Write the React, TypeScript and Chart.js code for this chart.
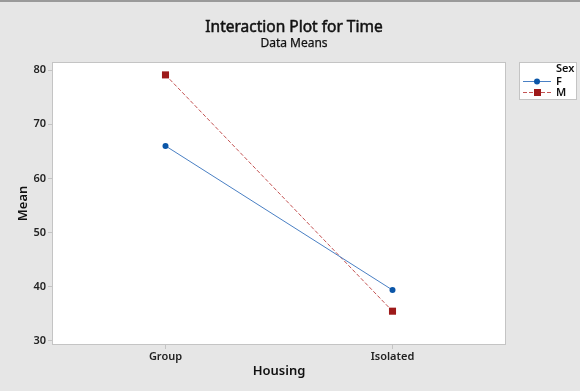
import React, { useEffect, useRef } from "react";
import { Chart, registerables } from "chart.js";

Chart.register(...registerables);

const categories = ["Group", "Isolated"];
const seriesF = [66.0, 39.4];
const seriesM = [79.1, 35.5];
const seriesLabels = ["F", "M"];
const yTicks = [30, 40, 50, 60, 70, 80];
const titleText = "Interaction Plot for Time";
const subtitleText = "Data Means";
const xTitle = "Housing";
const yTitle = "Mean";
const legendTitle = "Sex";

const FONT = "'Noto Sans', 'Open Sans', sans-serif";
const BG = "#e6e6e6";
const FRAME = "#c4c4c4";
const F_LINE = "#4a80c4";
const F_PT = "#0b56a8";
const M_LINE = "#c45454";
const M_PT = "#9e1a1a";

const decor = {
  id: "decor",
  beforeDraw(chart: any) {
    const { ctx, chartArea: a, width, height } = chart;
    ctx.save();
    ctx.fillStyle = BG;
    ctx.fillRect(0, 0, width, height);
    ctx.fillStyle = "#9a9a9a";
    ctx.fillRect(0, 0, width, 2);
    ctx.fillStyle = "#ffffff";
    ctx.fillRect(a.left, a.top, a.right - a.left, a.bottom - a.top);
    ctx.restore();
  },
  afterDraw(chart: any) {
    const { ctx, chartArea: a } = chart;
    ctx.save();
    ctx.strokeStyle = FRAME;
    ctx.lineWidth = 1;
    ctx.strokeRect(a.left + 0.5, a.top + 0.5, a.right - a.left - 1, a.bottom - a.top - 1);
    ctx.fillStyle = "#111";
    ctx.strokeStyle = "#111";
    ctx.textAlign = "center";
    ctx.textBaseline = "middle";
    ctx.font = `15.5px ${FONT}`;
    ctx.lineWidth = 0.5;
    ctx.fillText(titleText, 294, 28);
    ctx.strokeText(titleText, 294, 28);
    ctx.font = `12px ${FONT}`;
    ctx.lineWidth = 0.25;
    ctx.fillText(subtitleText, 294, 44);
    ctx.strokeText(subtitleText, 294, 44);
    ctx.font = `600 13px ${FONT}`;
    ctx.fillText(xTitle, (a.left + a.right) / 2 + 0, 371);
    ctx.save();
    ctx.translate(23, (a.top + a.bottom) / 2);
    ctx.rotate(-Math.PI / 2);
    ctx.fillText(yTitle, 0, 0);
    ctx.restore();
    ctx.lineWidth = 1;
    const lx = 519, ly = 62, lw = 58, lh = 38;
    ctx.fillStyle = "#ffffff";
    ctx.fillRect(lx, ly, lw, lh);
    ctx.strokeStyle = FRAME;
    ctx.strokeRect(lx + 0.5, ly + 0.5, lw - 1, lh - 1);
    ctx.fillStyle = "#111";
    ctx.textAlign = "left";
    ctx.font = `600 11px ${FONT}`;
    ctx.fillText(legendTitle, 556, 69);
    const rows = [
      { y: 81, line: F_LINE, pt: F_PT, dash: [] as number[], shape: "circle" },
      { y: 92, line: M_LINE, pt: M_PT, dash: [4, 2], shape: "rect" },
    ];
    rows.forEach((r, i) => {
      ctx.strokeStyle = r.line;
      ctx.lineWidth = 1;
      ctx.setLineDash(r.dash);
      ctx.beginPath();
      ctx.moveTo(523, r.y + 0.5);
      ctx.lineTo(551, r.y + 0.5);
      ctx.stroke();
      ctx.setLineDash([]);
      ctx.fillStyle = r.pt;
      if (r.shape === "circle") {
        ctx.beginPath();
        ctx.arc(537, r.y + 0.5, 3, 0, Math.PI * 2);
        ctx.fill();
      } else {
        ctx.fillRect(534, r.y - 3, 7, 7);
      }
      ctx.fillStyle = "#111";
      ctx.font = `600 11px ${FONT}`;
      ctx.fillText(seriesLabels[i], 556, r.y + 1);
    });
    ctx.restore();
  },
};

export default function App() {
  const ref = useRef<HTMLCanvasElement>(null);
  useEffect(() => {
    if (!ref.current) return;
    const chart = new Chart(ref.current, {
      type: "line",
      data: {
        labels: categories,
        datasets: [
          {
            label: seriesLabels[0],
            data: seriesF,
            borderColor: F_LINE,
            borderWidth: 1,
            pointStyle: "circle",
            pointRadius: 3,
            pointBorderWidth: 0,
            pointBackgroundColor: F_PT,
            pointBorderColor: F_PT,
          },
          {
            label: seriesLabels[1],
            data: seriesM,
            borderColor: M_LINE,
            borderWidth: 1,
            borderDash: [4, 2],
            pointStyle: "rect",
            pointRadius: 5,
            pointBorderWidth: 0,
            pointBackgroundColor: M_PT,
            pointBorderColor: M_PT,
          },
        ],
      },
      options: {
        responsive: false,
        animation: false,
        devicePixelRatio: 1,
        layout: { padding: { left: 0, top: 62, right: 74, bottom: 0 } },
        plugins: { legend: { display: false }, title: { display: false }, tooltip: { enabled: false } },
        scales: {
          x: {
            type: "category",
            offset: true,
            border: { display: false },
            grid: { display: true, drawOnChartArea: false, drawTicks: true, tickLength: 4, color: FRAME, offset: false },
            ticks: { color: "#222", font: { family: FONT, size: 11, weight: "600" }, padding: 1 },
            afterFit: (s: any) => { s.height = 46; },
          },
          y: {
            type: "linear",
            min: 29.26,
            max: 81.48,
            border: { display: false },
            grid: { display: true, drawOnChartArea: false, drawTicks: true, tickLength: 4, color: FRAME },
            ticks: {
              stepSize: 10,
              includeBounds: false,
              color: "#222",
              font: { family: FONT, size: 11, weight: "600" },
              padding: 2,
            },
            afterBuildTicks: (s: any) => { s.ticks = yTicks.map((v) => ({ value: v })); },
            afterFit: (s: any) => { s.width = 52; },
          },
        },
      },
      plugins: [decor],
    } as any);
    return () => chart.destroy();
  }, []);
  return (
    <div style={{ position: "fixed", left: 0, top: 0, width: 580, height: 391 }}>
      <canvas ref={ref} width={580} height={391} style={{ width: 580, height: 391, display: "block" }} />
    </div>
  );
}
